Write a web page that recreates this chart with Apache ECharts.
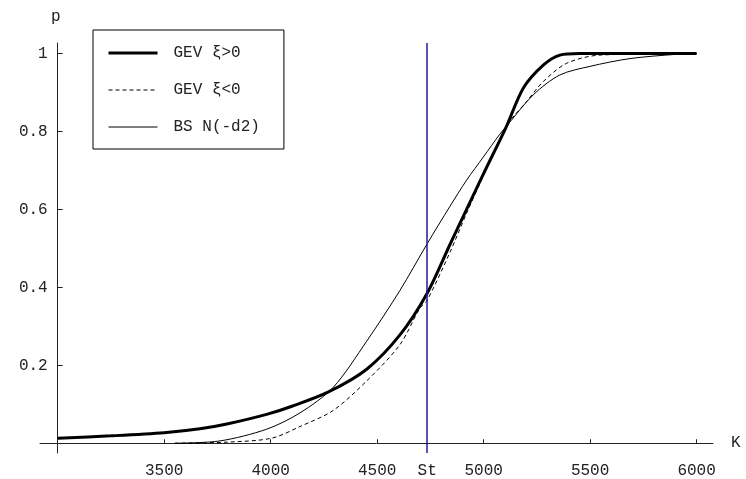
<!DOCTYPE html>
<html>
<head>
<meta charset="utf-8">
<script src="https://cdn.jsdelivr.net/npm/echarts@6/dist/echarts.min.js"></script>
<style>
  html, body { margin: 0; padding: 0; background: #fff; }
  #chart { width: 746px; height: 479px; }
</style>
</head>
<body>
<div id="chart"></div>
<script>
// strike K and probabilities
var gevPosK = [3000, 3250, 3500, 3668, 3800, 3981, 4100, 4269, 4451, 4607, 4735, 4842, 4920, 4998, 5108, 5186, 5280, 5358, 5450, 6000];
var gevPosP = [0.013, 0.019, 0.027, 0.037, 0.05, 0.074, 0.095, 0.131, 0.19, 0.278, 0.385, 0.51, 0.60, 0.69, 0.814, 0.911, 0.970, 0.996, 1.0, 1.0];

var gevNegK = [3550, 3800, 4005, 4138, 4293, 4451, 4607, 4700, 4735, 4842, 4920, 4998, 5108, 5202, 5280, 5390, 5546, 6000];
var gevNegP = [0.0, 0.003, 0.013, 0.043, 0.084, 0.16, 0.253, 0.346, 0.367, 0.49, 0.59, 0.685, 0.814, 0.877, 0.928, 0.975, 0.996, 1.0];

var bsK = [3550, 3762, 3981, 4138, 4293, 4451, 4607, 4735, 4842, 4920, 4998, 5076, 5108, 5233, 5358, 5499, 5687, 5905, 6000];
var bsP = [0.0, 0.006, 0.036, 0.078, 0.143, 0.262, 0.392, 0.512, 0.608, 0.675, 0.734, 0.793, 0.814, 0.894, 0.945, 0.967, 0.987, 0.998, 1.0];

var stK = 4735;
var xTicks = [3500, 4000, 4500, 5000, 5500, 6000];
var yTicks = [0.2, 0.4, 0.6, 0.8, 1];

var names = ['GEV ξ>0', 'GEV ξ<0', 'BS N(-d2)'];
var legendWidths = [3, 1, 1];

function pairs(ks, ps) {
  return ks.map(function (k, i) { return [k, ps[i]]; });
}

var font = 'Liberation Mono, Courier New, monospace';
var chart = echarts.init(document.getElementById('chart'));

var option = {
  animation: false,
  backgroundColor: '#fff',
  grid: { left: 40, right: 33, top: 43, bottom: 19 },
  legend: {
    orient: 'vertical',
    left: 93,
    top: 30,
    data: names.map(function (n, i) {
      return { name: n, lineStyle: { width: legendWidths[i], color: '#000' } };
    }),
    itemWidth: 49,
    itemHeight: 14,
    itemGap: 21,
    padding: [15, 24, 14, 14],
    borderColor: '#000',
    borderWidth: 1,
    itemStyle: { opacity: 0 },
    textStyle: { fontFamily: font, fontSize: 16, color: '#222', padding: [0, 0, 0, 11] }
  },
  xAxis: {
    type: 'value',
    min: 2917,
    max: 6077,
    name: 'K',
    nameLocation: 'end',
    nameGap: 18,
    nameTextStyle: { fontFamily: font, fontSize: 16, color: '#222' },
    splitLine: { show: false },
    axisLine: { onZero: true, lineStyle: { color: '#222', width: 1 } },
    axisTick: { inside: true, length: 4, customValues: xTicks, lineStyle: { color: '#222' } },
    axisLabel: {
      customValues: xTicks.concat([stK]),
      margin: 10,
      fontFamily: font,
      fontSize: 16,
      color: '#222',
      formatter: function (v) { return v === stK ? 'St' : String(v); }
    }
  },
  yAxis: {
    type: 'value',
    min: -0.025,
    max: 1.027,
    offset: -17.7,
    name: 'p',
    nameLocation: 'end',
    nameGap: 18,
    nameTextStyle: { fontFamily: font, fontSize: 16, color: '#222', padding: [0, 4, 0, 0] },
    splitLine: { show: false },
    axisLine: { show: true, onZero: false, lineStyle: { color: '#222', width: 1 } },
    axisTick: { show: true, inside: true, length: 5, customValues: yTicks, lineStyle: { color: '#222' } },
    axisLabel: {
      customValues: yTicks,
      margin: 10,
      fontFamily: font,
      fontSize: 16,
      color: '#222',
      formatter: function (v) { return String(v); }
    }
  },
  series: [
    {
      name: names[0],
      type: 'line',
      data: pairs(gevPosK, gevPosP),
      symbol: 'none',
      smooth: 0.3,
      lineStyle: { color: '#000', width: 3 },
      itemStyle: { color: '#000' },
      z: 3,
      markLine: {
        silent: true,
        symbol: 'none',
        label: { show: false },
        lineStyle: { color: '#1c1c96', width: 1.5, type: 'solid' },
        data: [{ xAxis: stK }]
      }
    },
    {
      name: names[1],
      type: 'line',
      data: pairs(gevNegK, gevNegP),
      symbol: 'none',
      smooth: 0.3,
      lineStyle: { color: '#000', width: 1, type: [4, 3] },
      itemStyle: { color: '#000' },
      z: 2
    },
    {
      name: names[2],
      type: 'line',
      data: pairs(bsK, bsP),
      symbol: 'none',
      smooth: 0.3,
      lineStyle: { color: '#000', width: 1 },
      itemStyle: { color: '#000' },
      z: 2
    }
  ]
};

chart.setOption(option);
</script>
</body>
</html>
